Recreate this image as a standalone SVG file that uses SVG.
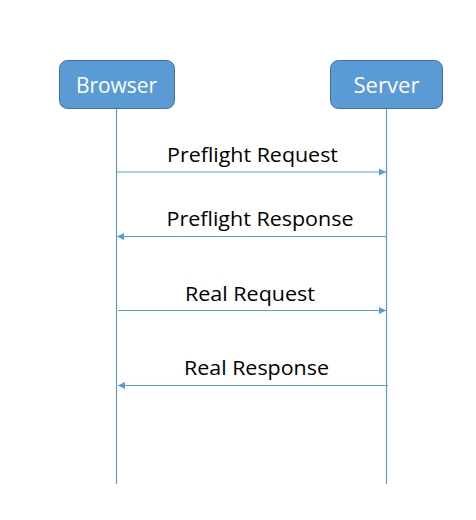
<svg xmlns="http://www.w3.org/2000/svg" width="476" height="520" viewBox="0 0 476 520">
<style>
.box{fill:#5B9BD5;stroke:#41719C;stroke-width:1}
.bt{fill:#fff;font-family:"Open Sans","Liberation Sans",Arial,sans-serif;font-size:22px;text-anchor:middle}
.lt{fill:#000;font-family:"Open Sans","Liberation Sans",Arial,sans-serif;font-size:20px;text-anchor:middle}
.ln{stroke:#5B9BD5;stroke-width:1.2;fill:none}
</style>
<defs>
<marker id="ah" viewBox="0 0 10 10" refX="10" refY="5" markerWidth="8" markerHeight="7" markerUnits="userSpaceOnUse" orient="auto">
<path d="M0,0 L10,5 L0,10 Z" fill="#5B9BD5"/>
</marker>
</defs>
<rect width="476" height="520" fill="#fff"/>
<g id="connectors">
<line class="ln" x1="116.5" y1="109" x2="116.5" y2="484"/>
<line class="ln" x1="386.5" y1="109" x2="386.5" y2="484"/>
<line class="ln" x1="117" y1="172" x2="386" y2="172" marker-end="url(#ah)"/>
<line class="ln" x1="386" y1="236.5" x2="117" y2="236.5" marker-end="url(#ah)"/>
<line class="ln" x1="118" y1="310.5" x2="386" y2="310.5" marker-end="url(#ah)"/>
<line class="ln" x1="388" y1="385.5" x2="118" y2="385.5" marker-end="url(#ah)"/>
<text class="lt" x="252.5" y="162" textLength="171" lengthAdjust="spacingAndGlyphs">Preflight Request</text>
<text class="lt" x="260" y="226" textLength="187" lengthAdjust="spacingAndGlyphs">Preflight Response</text>
<text class="lt" x="250" y="300.5" textLength="130" lengthAdjust="spacingAndGlyphs">Real Request</text>
<text class="lt" x="256.5" y="375" textLength="145" lengthAdjust="spacingAndGlyphs">Real Response</text>
</g>
<g id="browser">
<rect class="box" x="59.5" y="60.5" width="115" height="48" rx="8"/>
<text class="bt" x="116.5" y="92.5" textLength="81" lengthAdjust="spacingAndGlyphs">Browser</text>
</g>
<g id="server">
<rect class="box" x="330.5" y="60.5" width="112" height="48" rx="8"/>
<text class="bt" x="386.5" y="92.5" textLength="66" lengthAdjust="spacingAndGlyphs">Server</text>
</g>
</svg>
